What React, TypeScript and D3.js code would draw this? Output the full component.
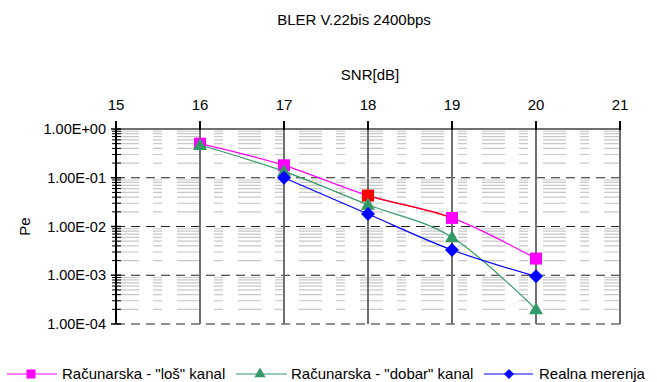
import React from "react";
import * as d3 from "d3";

// SNR axis and series values
const snr = [16, 17, 18, 19, 20];
const losKanal = [0.5, 0.18, 0.043, 0.015, 0.0022];
const dobarKanal = [0.47, 0.135, 0.028, 0.006, 0.0002];
const realnaSnr = [17, 18, 19, 20];
const realna = [0.1, 0.018, 0.0033, 0.00095];

const xTicks = [15, 16, 17, 18, 19, 20, 21];
const yTicks = [1, 0.1, 0.01, 0.001, 0.0001];
const yTickLabels = ["1.00E+00", "1.00E-01", "1.00E-02", "1.00E-03", "1.00E-04"];

const seriesNames = ['Računarska - "loš" kanal', 'Računarska - "dobar" kanal', "Realna merenja"];

const W = 657;
const H = 382;
const FONT = "'Liberation Sans', Arial, sans-serif";

export default function App() {
  const x = d3.scaleLinear().domain([15, 21]).range([116, 620]);
  const y = d3.scaleLog().domain([1e-4, 1]).range([324, 129]);

  const line = d3
    .line<[number, number]>()
    .x((d) => x(d[0]))
    .y((d) => y(d[1]))
    .curve(d3.curveCardinal.tension(0));

  const losPts = snr.map((s, i) => [s, losKanal[i]] as [number, number]);
  const dobarPts = snr.map((s, i) => [s, dobarKanal[i]] as [number, number]);
  const realPts = realnaSnr.map((s, i) => [s, realna[i]] as [number, number]);

  // minor log grid (2..9 in each decade)
  const minors: number[] = [];
  for (let e = -4; e < 0; e++) {
    for (let m = 2; m <= 9; m++) minors.push(m * Math.pow(10, e));
  }

  const tri = d3.symbol().type(d3.symbolTriangle).size(85)();
  const dia = (s: number) => `M0,${-s}L${s},0L0,${s}L${-s},0Z`;

  return (
    <svg width={W} height={H} style={{ position: "absolute", left: 0, top: 0, background: "#fff" }} fontFamily={FONT}>
      <defs>
        <clipPath id="redSeg">
          <rect x={x(18)} y={0} width={x(19) - x(18)} height={H} />
        </clipPath>
      </defs>

      <text x={354} y={25} fontSize={15} textAnchor="middle">BLER V.22bis 2400bps</text>
      <text x={370} y={80} fontSize={15} textAnchor="middle">SNR[dB]</text>

      {/* minor grid */}
      {minors.map((v, i) => (
        <line key={"m" + i} x1={116} x2={620} y1={y(v)} y2={y(v)} stroke="#c8c8c8" strokeWidth={1.2} strokeDasharray="23,14,9,15" />
      ))}

      {/* major dashed grid */}
      {yTicks.slice(1).map((v, i) => (
        <line key={"M" + i} x1={116} x2={620} y1={y(v)} y2={y(v)} stroke="#222" strokeWidth={1} strokeDasharray="9,6" />
      ))}
      <line x1={116} x2={620} y1={y(1)} y2={y(1)} stroke="#707070" strokeWidth={2} />

      {/* vertical grid */}
      {xTicks.slice(1).map((v) => (
        <line key={"v" + v} x1={x(v)} x2={x(v)} y1={y(1)} y2={y(1e-4)} stroke="#707070" strokeWidth={2} />
      ))}

      {/* top axis ticks and labels */}
      {xTicks.map((v) => (
        <g key={"xt" + v}>
          <line x1={x(v)} x2={x(v)} y1={121} y2={130} stroke="#000" strokeWidth={2} />
          <text x={x(v)} y={110} fontSize={15} textAnchor="middle">{v}</text>
        </g>
      ))}

      {/* left axis */}
      <line x1={116} x2={116} y1={y(1)} y2={y(1e-4)} stroke="#000" strokeWidth={2} />
      {minors.map((v, i) => (
        <line key={"mt" + i} x1={112} x2={121} y1={y(v)} y2={y(v)} stroke="#000" strokeWidth={1} />
      ))}
      {yTicks.map((v, i) => (
        <g key={"yt" + i}>
          <line x1={111} x2={121} y1={y(v)} y2={y(v)} stroke="#000" strokeWidth={1.5} />
          <text x={106} y={y(v) + 5} fontSize={14.5} textAnchor="end">{yTickLabels[i]}</text>
        </g>
      ))}
      <text transform={`translate(30,${(y(1) + y(1e-4)) / 2}) rotate(-90)`} fontSize={15} textAnchor="middle">Pe</text>

      {/* series */}
      <path d={line(losPts) || ""} fill="none" stroke="#ff00ff" strokeWidth={1.2} />
      <path d={line(losPts) || ""} fill="none" stroke="#ff0000" strokeWidth={1.3} clipPath="url(#redSeg)" />
      {losPts.map((d, i) => (
        <rect key={"s" + i} x={x(d[0]) - 6} y={y(d[1]) - 6} width={12} height={12} fill={d[0] === 18 ? "#ff0000" : "#ff00ff"} />
      ))}

      <path d={line(dobarPts) || ""} fill="none" stroke="#339966" strokeWidth={1.2} />
      {dobarPts.map((d, i) => (
        <path key={"t" + i} d={tri} transform={`translate(${x(d[0])},${y(d[1]) + 1})`} fill="#339966" />
      ))}

      <path d={line(realPts) || ""} fill="none" stroke="#0000ff" strokeWidth={1.2} />
      {realPts.map((d, i) => (
        <path key={"d" + i} d={dia(7)} transform={`translate(${x(d[0])},${y(d[1])})`} fill="#0000ff" />
      ))}

      {/* legend */}
      <g fontSize={15}>
        <line x1={7} x2={57} y1={374} y2={374} stroke="#ff00ff" strokeWidth={1.2} />
        <rect x={26.5} y={369.5} width={9} height={9} fill="#ff00ff" />
        <text x={62} y={379}>{seriesNames[0]}</text>

        <line x1={236} x2={287} y1={374} y2={374} stroke="#339966" strokeWidth={1.2} />
        <path d={d3.symbol().type(d3.symbolTriangle).size(55)() || ""} transform="translate(260,374)" fill="#339966" />
        <text x={291} y={379}>{seriesNames[1]}</text>

        <line x1={484} x2={533} y1={374} y2={374} stroke="#0000ff" strokeWidth={1.2} />
        <path d={dia(5)} transform="translate(509,374)" fill="#0000ff" />
        <text x={539} y={379}>{seriesNames[2]}</text>
      </g>
    </svg>
  );
}
